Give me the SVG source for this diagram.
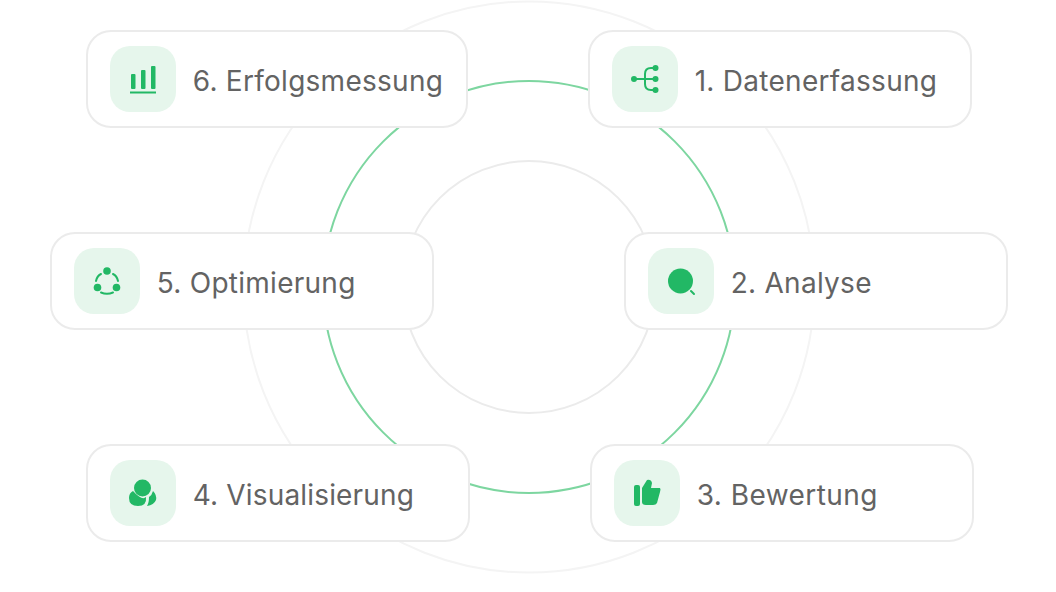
<svg xmlns="http://www.w3.org/2000/svg" width="1056" height="592" viewBox="0 0 1056 592">
<style>
.card{fill:#fff;stroke:#ebebeb;stroke-width:2}
.tile{fill:#e6f6ec}
.lbl{font-family:Inter,"Liberation Sans",sans-serif;font-size:28px;font-weight:400;fill:#636363}
.g{fill:#22b865}
.gs{fill:none;stroke:#22b865;stroke-width:2;stroke-linecap:round}
</style>
<rect width="1056" height="592" fill="#fff"/>
<g id="connectors" fill="none">
<circle cx="529" cy="287" r="285.500" stroke="#f4f4f4" stroke-width="2"/>
<circle cx="529" cy="287" r="206" stroke="#7dd6a0" stroke-width="2"/>
<circle cx="529" cy="287" r="126" stroke="#ebebeb" stroke-width="2"/>
</g>
<g id="node-6"><rect class="card" x="87" y="31" width="380" height="96" rx="24"/><rect class="tile" x="110" y="46" width="66" height="66" rx="20"/>
<rect class="g" x="131" y="74" width="4.500" height="15" rx="1"/><rect class="g" x="141" y="70" width="4.500" height="19" rx="1"/><rect class="g" x="151" y="66" width="4.500" height="23" rx="1"/><rect class="g" x="130" y="91.500" width="26" height="2"/>
<text class="lbl" x="192.700" y="90.500" letter-spacing=".27">6. Erfolgsmessung</text></g>
<g id="node-1"><rect class="card" x="589" y="31" width="382" height="96" rx="24"/><rect class="tile" x="612" y="46" width="66" height="66" rx="20"/>
<path class="gs" d="M634 79H655M655 68H651Q645 68 645 74V84Q645 90 651 90H655"/><circle class="g" cx="634" cy="79" r="3"/><circle class="g" cx="655.500" cy="68" r="3"/><circle class="g" cx="655.500" cy="79" r="3"/><circle class="g" cx="655.500" cy="90" r="3"/>
<text class="lbl" x="694.700" y="90.500" letter-spacing=".28">1. Datenerfassung</text></g>
<g id="node-5"><rect class="card" x="51" y="233" width="382" height="96" rx="24"/><rect class="tile" x="74" y="248" width="66" height="66" rx="20"/>
<circle class="g" cx="107" cy="271" r="3.800"/><circle class="g" cx="97.500" cy="287.500" r="3.800"/><circle class="g" cx="116.500" cy="287.500" r="3.800"/>
<path class="gs" d="M96 281Q97 276 101 274M113 274Q117 276 118 281M101 292.500Q107 295 113 292.500"/>
<text class="lbl" x="156.700" y="292.500" letter-spacing=".27">5. Optimierung</text></g>
<g id="node-2"><rect class="card" x="625" y="233" width="382" height="96" rx="24"/><rect class="tile" x="648" y="248" width="66" height="66" rx="20"/>
<circle class="g" cx="680.500" cy="281" r="12.500"/><path class="gs" d="M691 291L694 294" stroke-width="1.500"/>
<text class="lbl" x="730.700" y="292.500" letter-spacing=".27">2. Analyse</text></g>
<g id="node-4"><rect class="card" x="87" y="445" width="382" height="96" rx="24"/><rect class="tile" x="110" y="460" width="66" height="66" rx="20"/>
<circle class="g" cx="142.500" cy="488" r="8.500"/><path class="g" d="M133 491Q142 501 146 497Q147 506 138 506Q129 506 129 498Q129 493 133 491Z"/><path class="g" d="M153 491Q157 495 156 500Q154 505 147 506Q149 503 149 497Q152 495 153 491Z"/>
<text class="lbl" x="192.700" y="504.500" letter-spacing=".17">4. Visualisierung</text></g>
<g id="node-3"><rect class="card" x="591" y="445" width="382" height="96" rx="24"/><rect class="tile" x="614" y="460" width="66" height="66" rx="20"/>
<rect class="g" x="634" y="485" width="6" height="21" rx="2"/><path class="g" d="M642 488L647 480Q651 479 652 483L651 488H660Q661 489 660 492L657 503Q656 505 653 505H646Q642 505 642 502Z"/>
<text class="lbl" x="696.700" y="504.500" letter-spacing=".45">3. Bewertung</text></g>
</svg>
